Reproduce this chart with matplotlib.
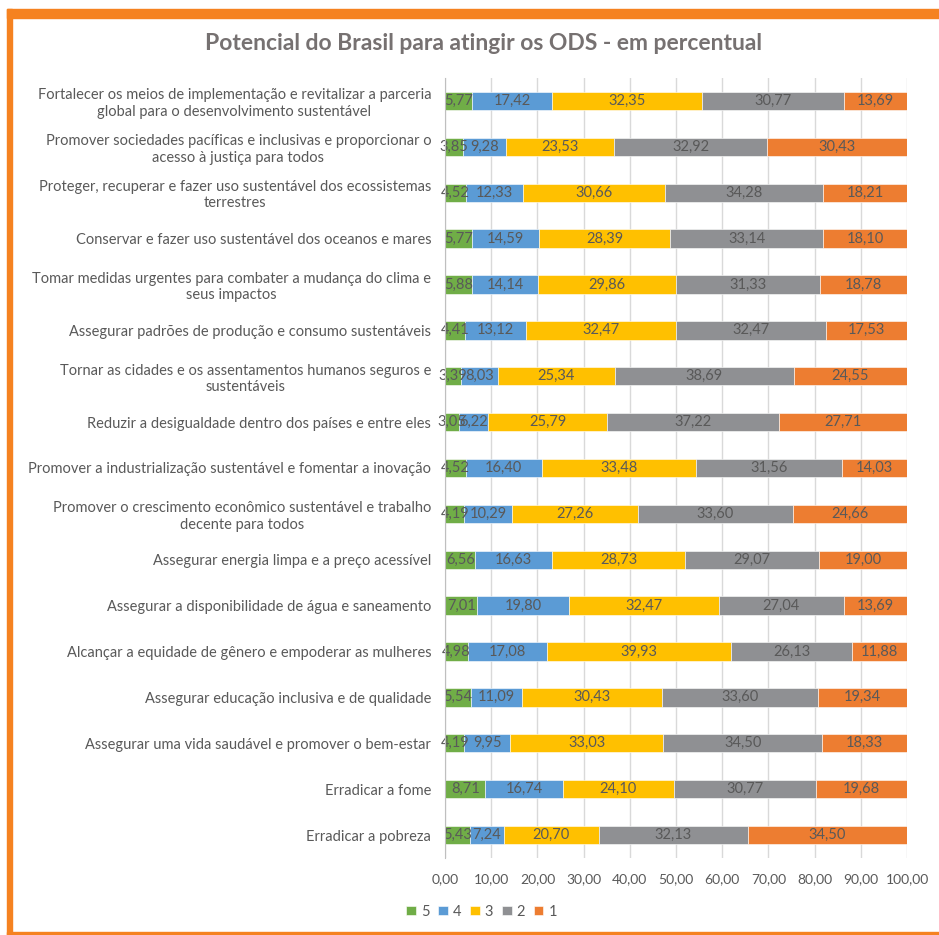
import numpy as np
import matplotlib.pyplot as plt
from matplotlib.patches import Rectangle

# ODS 1 .. 17 (bottom to top in the chart)
objetivos = [
    "Erradicar a pobreza",
    "Erradicar a fome",
    "Assegurar uma vida saudável e promover o bem-estar",
    "Assegurar educação inclusiva e de qualidade",
    "Alcançar a equidade de gênero e empoderar as mulheres",
    "Assegurar a disponibilidade de água e saneamento",
    "Assegurar energia limpa e a preço acessível",
    "Promover o crescimento econômico sustentável e trabalho\ndecente para todos",
    "Promover a industrialização sustentável e fomentar a inovação",
    "Reduzir a desigualdade dentro dos países e entre eles",
    "Tornar as cidades e os assentamentos humanos seguros e\nsustentáveis",
    "Assegurar padrões de produção e consumo sustentáveis",
    "Tomar medidas urgentes para combater a mudança do clima e\nseus impactos",
    "Conservar e fazer uso sustentável dos oceanos e mares",
    "Proteger, recuperar e fazer uso sustentável dos ecossistemas\nterrestres",
    "Promover sociedades pacíficas e inclusivas e proporcionar o\nacesso à justiça para todos",
    "Fortalecer os meios de implementação e revitalizar a parceria\nglobal para o desenvolvimento sustentável",
]

nota_5 = [5.43, 8.71, 4.19, 5.54, 4.98, 7.01, 6.56, 4.19, 4.52, 3.05, 3.39, 4.41, 5.88, 5.77, 4.52, 3.85, 5.77]
nota_4 = [7.24, 16.74, 9.95, 11.09, 17.08, 19.80, 16.63, 10.29, 16.40, 6.22, 8.03, 13.12, 14.14, 14.59, 12.33, 9.28, 17.42]
nota_3 = [20.70, 24.10, 33.03, 30.43, 39.93, 32.47, 28.73, 27.26, 33.48, 25.79, 25.34, 32.47, 29.86, 28.39, 30.66, 23.53, 32.35]
nota_2 = [32.13, 30.77, 34.50, 33.60, 26.13, 27.04, 29.07, 33.60, 31.56, 37.22, 38.69, 32.47, 31.33, 33.14, 34.28, 32.92, 30.77]
nota_1 = [34.50, 19.68, 18.33, 19.34, 11.88, 13.69, 19.00, 24.66, 14.03, 27.71, 24.55, 17.53, 18.78, 18.10, 18.21, 30.43, 13.69]

series = [("5", nota_5, "#70ad47"),
          ("4", nota_4, "#5b9bd5"),
          ("3", nota_3, "#ffc000"),
          ("2", nota_2, "#8f9093"),
          ("1", nota_1, "#ed7d31")]

txt = "#595959"
plt.rcParams['font.family'] = ['Lato', 'DejaVu Sans']

fig = plt.figure(figsize=(9.39, 9.35), dpi=100)
ax = fig.add_axes([0.474, 0.0824, 0.492, 0.8342])

y = np.arange(len(objetivos))
left = np.zeros(len(objetivos))
for nome, vals, cor in series:
    vals = np.array(vals)
    bars = ax.barh(y, vals, left=left, height=0.4, color=cor,
                   edgecolor="white", linewidth=0.4, label=nome, zorder=3)
    ax.bar_label(bars, labels=[f"{v:.2f}".replace(".", ",") for v in vals],
                 label_type="center", color=txt, fontsize=10.5, zorder=4)
    left += vals

ax.set_xlim(0, 100)
ax.set_ylim(-0.5, len(objetivos) - 0.5)
ax.set_xticks(np.arange(0, 101, 10))
ax.set_xticklabels([f"{t:.2f}".replace(".", ",") for t in np.arange(0, 101, 10)],
                   color=txt, fontsize=10)
ax.set_yticks(y)
ax.set_yticklabels(objetivos, color=txt, fontsize=10.5, multialignment="center")
ax.tick_params(axis="both", length=0)
ax.tick_params(axis="x", pad=11)
ax.tick_params(axis="y", pad=10)

ax.grid(axis="x", color="#d9d9d9", linewidth=1, zorder=0)
for side in ["top", "right", "bottom"]:
    ax.spines[side].set_visible(False)
ax.spines["left"].set_color("#bfbfbf")
ax.spines["left"].set_zorder(5)

fig.text(0.515, 0.953, "Potencial do Brasil para atingir os ODS - em percentual",
         ha="center", va="center", fontsize=16.5, fontweight="bold", color="#767171")

fig.legend(loc="center", bbox_to_anchor=(0.513, 0.025), ncol=5, frameon=False,
           fontsize=10.5, handlelength=0.65, handleheight=0.65, handletextpad=0.35,
           columnspacing=0.6, labelcolor=txt)

# orange frame on the left, top and bottom edges
fig.patches.append(Rectangle((7 / 939, 0), 5 / 939, 1 - 9 / 935, transform=fig.transFigure,
                             color="#f58220", zorder=10))
fig.patches.append(Rectangle((7 / 939, 1 - 18 / 935), 1, 9 / 935, transform=fig.transFigure,
                             color="#f58220", zorder=10))
fig.patches.append(Rectangle((7 / 939, 0), 1, 3.5 / 935, transform=fig.transFigure,
                             color="#f58220", zorder=10))

fig.savefig("out.png", dpi=100)
